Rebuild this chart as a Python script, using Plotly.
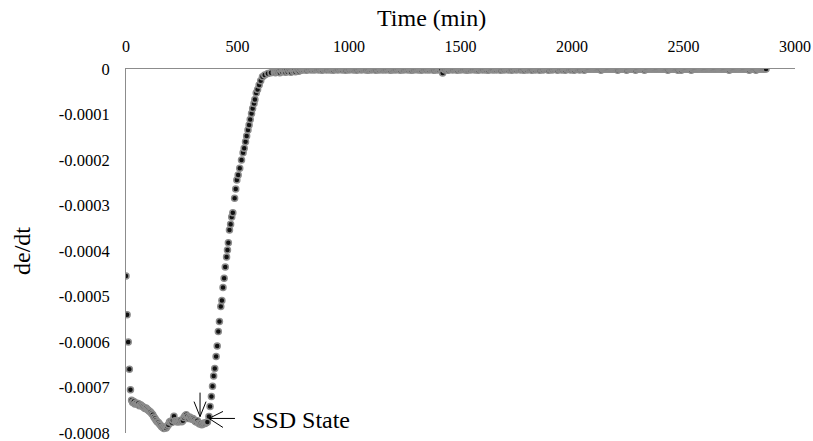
import plotly.graph_objects as go

# de/dt values in units of 1e-6
# initial drop + plateau, sampled every 5 min from t = 0
dedt_drop_u = [
    -455, -540, -600, -660, -705, -728, -733, -731, -736, -734,
    -737, -735, -740, -738, -740, -742, -744, -746, -745, -748,
    -750, -752, -754, -757, -760, -765, -768, -772, -775, -777,
    -780, -783, -786, -788, -790, -787, -789, -785, -782, -776,
    -774, -777, -772, -763, -773, -775, -774, -776, -774, -772,
    -775, -773, -766, -762, -760, -764, -768, -765, -767, -770,
    -768, -771, -774, -776, -773, -778, -780, -779, -782, -780,
    -778, -779, -777, -776,
]
time_drop = list(range(0, 5 * len(dedt_drop_u), 5))

# rise back towards zero (times)
time_rise = [
    372, 377, 383, 388, 393, 398, 404, 409, 414, 419,
    425, 430, 435, 440, 445, 451, 455, 459, 464, 469,
    474, 479, 487, 492, 497, 503, 510, 518, 525, 530,
    536, 541, 547, 552, 557, 563, 568, 574, 578, 584,
    590, 597, 604, 612, 622, 636, 650,
]
dedt_rise_u = [
    -764, -742, -720, -697, -675, -658, -632, -609, -577, -555,
    -522, -509, -480, -460, -435, -413, -398, -382, -354, -341,
    -325, -316, -284, -264, -244, -233, -218, -200, -184, -174,
    -160, -147, -134, -123, -111, -98, -87, -76, -67, -53,
    -45, -35, -26, -17, -13, -10, -8,
]

# near-zero tail, sampled every 5 min from t = 665
dedt_flat_u = [
    -7, -8, -6, -7, -5, -8, -2, -6, -1, -5, -7, -2, -6, -1, -4, -7, -1, -5, -2, -6,
    -1, -4, -5, -1, -3, 0, -2, 0, -1, -3, 0, -1, 0, -2, 0, -1, -2, 0, -1, 0,
    -2, 0, -1, -3, 0, -1, 0, -2, 0, 0, -2, -1, 0, -3, 0, -1, 0, -2, 0, -1,
    0, -2, 0, -1, -3, 0, 0, -2, 0, -1, 0, -2, -1, 0, -3, 0, -1, 0, -2, 0,
    -1, 0, -2, 0, -3, -1, 0, -2, 0, -1, 0, -3, 0, -1, -2, 0, 0, -2, -1, 0,
    -2, 0, -1, 0, -3, 0, -2, -1, 0, -2, 0, -1, 0, -3, 0, -1, -2, 0, -1, 0,
    -2, 0, -1, -3, 0, -2, 0, -1, 0, -2, -1, 0, -3, 0, -1, 0, -2, 0, -1, -2,
    0, -1, 0, -3, 0, -2, -1, 0, -2, 0, -1, -9, 0, -2, 0, -1, -3, 0, -1, 0,
    -2, 0, -1, 0, -3, 0, -1, -2, 0, -1, 0, -2, 0, -3, -1, 0, -2, 0, -1, 0,
    -2, -1, 0, -3, 0, -1, 0, -2, 0, -1, -2, 0, -3, 0, -1, 0, -2, -1, 0, -2,
    0, -1, 0, -3, 0, 0, -2, 0, -1, 0, -2, 0, 0, -3, 0, -1, 0, -2, 0, -1,
    0, -2, 0, -1, -3, 0, 0, -2, 0, -1, 0, -3, 0, 0, -2, 0, -1, 0, -3, 0,
    0, -2, 0, 0, -1, 0, -3, 0, 0, -2, 0, -1, 0, 0, -3, 0, -1, 0, -2, 0,
    0, -3, 0, 0, -1, 0, -2, 0, 0, -3, 0, 0, -1, 0, -2, 0, 0, 0, -3, 0,
    0, 0, 0, 0, 0, 0, 0, 0, 0, 0, 0, 0, 0, -3, 0, 0, 0, 0, 0, 0,
    0, 0, 0, 0, 0, 0, 0, 0, -3, 0, 0, 0, 0, 0, 0, 0, -3, 0, 0, 0,
    0, 0, 0, 0, -3, 0, 0, 0, 0, 0, 0, 0, -3, 0, 0, 0, 0, 0, 0, 0,
    0, 0, 0, 0, 0, 0, 0, 0, 0, 0, 0, 0, 0, -3, 0, 0, 0, 0, 0, 0,
    0, 0, -3, 0, 0, -3, 0, 0, 0, 0, 0, 0, 0, 0, -3, 0, 0, 0, 0, 0,
    0, 0, 0, 0, 0, 0, 0, 0, 0, 0, 0, 0, 0, 0, 0, 0, 0, 0, 0, 0,
    0, 0, 0, 0, 0, 0, 0, 0, -3, 0, 0, 0, 0, 0, 0, 0, 0, 0, 0, 0,
    0, 0, 0, 0, 0, 0, -3, 0, 0, 0, 0, 0, -3, 0, 0, 0, 0, 0, 0, 0,
    0, 0,
]
time_flat = list(range(665, 665 + 5 * len(dedt_flat_u), 5))

x_ticks = [0, 500, 1000, 1500, 2000, 2500, 3000]
y_ticks = [0, -0.0001, -0.0002, -0.0003, -0.0004, -0.0005, -0.0006, -0.0007, -0.0008]
y_tick_labels = ["0", "-0.0001", "-0.0002", "-0.0003", "-0.0004",
                 "-0.0005", "-0.0006", "-0.0007", "-0.0008"]

time_min = time_drop + time_rise + time_flat
dedt = [v * 1e-6 for v in dedt_drop_u + dedt_rise_u + dedt_flat_u]

SERIF = "Liberation Serif"

fig = go.Figure()
fig.add_trace(go.Scatter(
    x=time_min, y=dedt, mode="markers",
    marker=dict(size=6, color="#111111", line=dict(color="#8c8c8c", width=1.5)),
    showlegend=False,
))

# SSD state arrows (pixel-offset shapes anchored on the data points)
V_T, V_Y = 332, -0.000764
H_T, H_Y = 372, -0.000768
arrow_lines = [
    (V_T, V_Y, 0, 0, 0, 24), (V_T, V_Y, 0, 0, -6, 15), (V_T, V_Y, 0, 0, 6, 15),
    (H_T, H_Y, 0, 0, 26, 0), (H_T, H_Y, 0, 0, 14, 7), (H_T, H_Y, 0, 0, 14, -9),
]
for ax_, ay_, x0, y0, x1, y1 in arrow_lines:
    fig.add_shape(type="line", xref="x", yref="y",
                  xsizemode="pixel", ysizemode="pixel",
                  xanchor=ax_, yanchor=ay_,
                  x0=x0, y0=y0, x1=x1, y1=y1,
                  line=dict(color="black", width=1))

fig.add_annotation(x=H_T, y=H_Y, xref="x", yref="y", text="SSD State",
                   showarrow=False, xanchor="left", yanchor="middle",
                   xshift=41, yshift=-2,
                   font=dict(family=SERIF, size=24, color="black"))

fig.add_annotation(x=0.456, y=1, xref="paper", yref="paper", text="Time (min)",
                   showarrow=False, xanchor="center", yanchor="middle", yshift=51,
                   font=dict(family=SERIF, size=24, color="black"))
fig.add_annotation(x=0, y=0.5, xref="paper", yref="paper", text="de/dt",
                   showarrow=False, xanchor="center", yanchor="middle", xshift=-104,
                   textangle=-90,
                   font=dict(family=SERIF, size=24, color="black"))

fig.update_layout(
    width=813, height=441,
    margin=dict(l=126, r=18, t=69, b=8),
    paper_bgcolor="white", plot_bgcolor="white",
    font=dict(family=SERIF, color="black"),
    xaxis=dict(side="top", range=[0, 3000], tickvals=x_ticks,
               showgrid=False, zeroline=False, showline=True,
               linecolor="#8c8c8c", linewidth=1, ticks="",
               ticklabelstandoff=10, tickfont=dict(family=SERIF, size=16),
               ticklabeloverflow="allow", automargin=False),
    yaxis=dict(range=[-0.0008, 0], tickvals=y_ticks, ticktext=y_tick_labels,
               showgrid=False, zeroline=False, showline=True,
               linecolor="#8c8c8c", linewidth=1, ticks="",
               ticklabelstandoff=12, tickfont=dict(family=SERIF, size=16.5),
               ticklabeloverflow="allow", automargin=False),
)

fig.write_html("out.html",
               config={"displayModeBar": False},
               post_script="document.body.style.margin='0';document.body.style.overflow='hidden';")
